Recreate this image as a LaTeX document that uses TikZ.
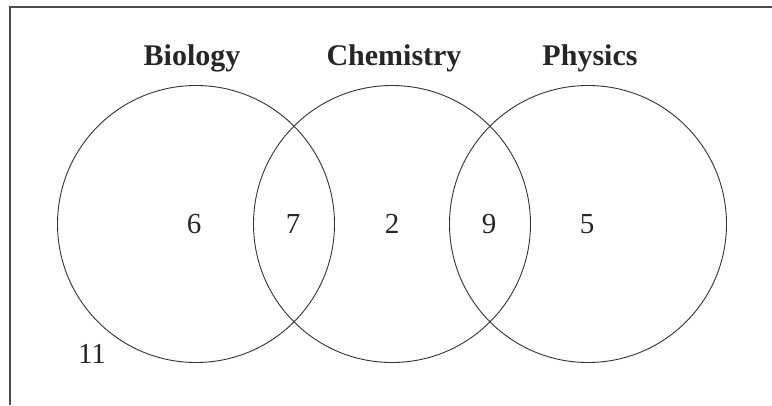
\documentclass[tikz,border=0pt]{standalone}
\usepackage{fontspec}
\setmainfont{Liberation Serif}
\begin{document}
\begin{tikzpicture}[x=1pt,y=-1pt,
  setcircle/.style={draw=black!80,line width=0.9pt},
  settitle/.style={font=\fontsize{30}{34}\selectfont\bfseries,text=black!85,inner sep=0pt},
  setnum/.style={font=\fontsize{29}{34}\selectfont,text=black!85,inner sep=0pt},
  frameline/.style={draw=black!70,line width=1.3pt}]
\useasboundingbox (0,0) rectangle (772,405);
\coordinate (tl) at (10,7);
\coordinate (tr) at (772,7);
\coordinate (bl) at (10,405);
\draw[frameline] (tr) -- (tl) -- (bl);
\node[setcircle,circle,minimum size=277pt,inner sep=0pt] (bio) at (196,224) {};
\node[setcircle,circle,minimum size=277pt,inner sep=0pt] (chem) at (392,224) {};
\node[setcircle,circle,minimum size=277pt,inner sep=0pt] (phys) at (588,224) {};
\node[settitle] (tbio) at (192,58) {Biology};
\node[settitle] (tchem) at (394,58) {Chemistry};
\node[settitle] (tphys) at (590,58) {Physics};
\node[setnum] (n6) at (194,224) {6};
\node[setnum] (n7) at (293,224) {7};
\node[setnum] (n2) at (392,224) {2};
\node[setnum] (n9) at (489,224) {9};
\node[setnum] (n5) at (587,224) {5};
\node[setnum] (n11) at (92,354) {11};
\end{tikzpicture}
\end{document}
